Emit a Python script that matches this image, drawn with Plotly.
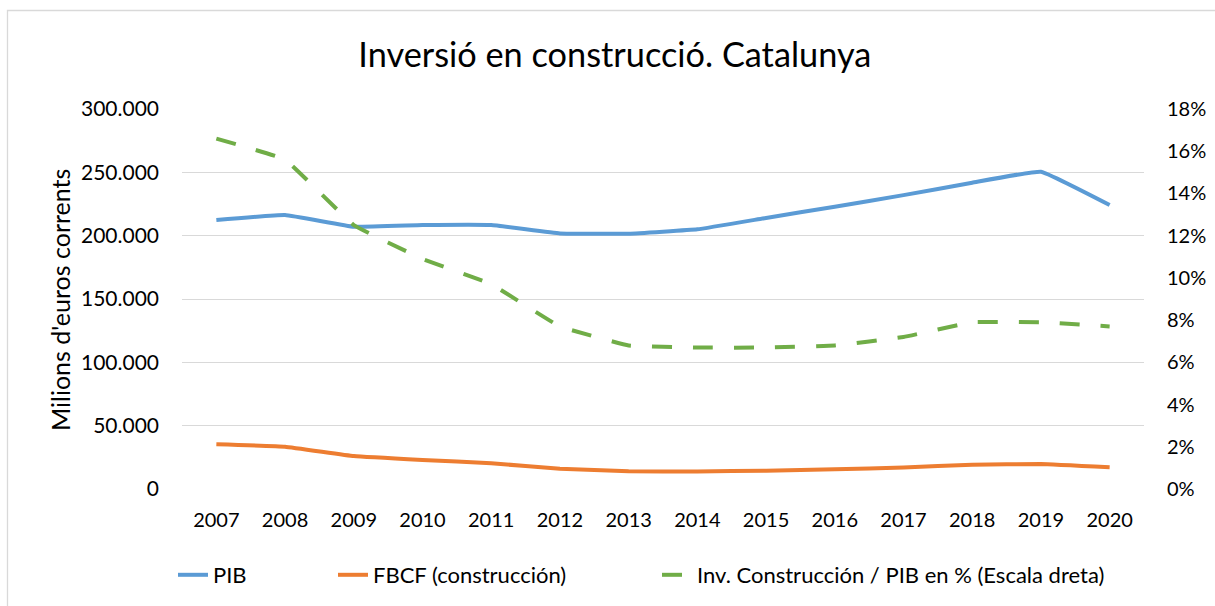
import plotly.graph_objects as go

years = ["2007", "2008", "2009", "2010", "2011", "2012", "2013",
         "2014", "2015", "2016", "2017", "2018", "2019", "2020"]
pib = [212400, 216300, 207000, 208400, 208400, 201800, 201600,
       205000, 214000, 222900, 232000, 241800, 250500, 224200]
fbcf = [35300, 33400, 26000, 22900, 20300, 16000, 14000,
        13800, 14500, 15500, 17000, 19200, 19700, 17100]
ratio_pct = [16.6, 15.6, 12.5, 10.9, 9.7, 7.7, 6.8,
             6.7, 6.7, 6.8, 7.2, 7.9, 7.9, 7.7]

FONT = "Lato"
TXT = "#000000"

L, R, T, B = 182, 71, 109, 117
W, H = 1215, 606
pw, ph = W - L - R, H - T - B

def px_x(px):
    return (px - L) / pw

def px_y(py):
    return (H - B - py) / ph

fig = go.Figure()
fig.add_trace(go.Scatter(x=years, y=pib, name="PIB", mode="lines", legend="legend",
                         line=dict(color="#5B9BD5", width=4, shape="spline", smoothing=0.25)))
fig.add_trace(go.Scatter(x=years, y=fbcf, name="FBCF (construcción)", mode="lines",
                         legend="legend2",
                         line=dict(color="#ED7D31", width=4, shape="spline", smoothing=0.25)))
fig.add_trace(go.Scatter(x=years, y=[v / 100 for v in ratio_pct],
                         name="Inv. Construcción / PIB en % (Escala dreta)", mode="lines",
                         yaxis="y2", legend="legend3",
                         line=dict(color="#70AD47", width=4, dash="20px,21px",
                                   shape="spline", smoothing=0.25)))

def leg(xpx):
    return dict(orientation="h", x=px_x(xpx), xanchor="left", y=px_y(575), yanchor="middle",
                font=dict(family=FONT, size=22, color=TXT), bgcolor="rgba(0,0,0,0)",
                borderwidth=0)

fig.update_layout(
    width=W, height=H,
    margin=dict(l=L, r=R, t=T, b=B, autoexpand=False),
    paper_bgcolor="white", plot_bgcolor="white",
    separators=",.",
    font=dict(family=FONT, color=TXT, size=20),
    title=dict(text="Inversió en construcció. Catalunya", x=0.506, xanchor="center",
               y=1 - 55 / H, yanchor="middle", yref="container",
               font=dict(family=FONT, size=34.3, color=TXT)),
    showlegend=True,
    legend=leg(215 - 42),
    legend2=leg(375 - 42),
    legend3=leg(699 - 42),
    xaxis=dict(type="category", range=[-0.5, 13.5], showgrid=False, showline=False,
               zeroline=False, ticks="", tickfont=dict(size=20), ticklabelstandoff=17),
    yaxis=dict(range=[0, 300000], dtick=50000, tickformat=",d", showgrid=True,
               gridcolor="#D9D9D9", gridwidth=1.3, zeroline=False, showline=False,
               ticks="", tickfont=dict(size=21), ticklabelstandoff=22),
    yaxis2=dict(range=[0, 0.18], dtick=0.02, tickformat=".0%", overlaying="y", side="right",
                showgrid=False, zeroline=False, showline=False, ticks="",
                tickfont=dict(size=20), ticklabelstandoff=22),
    annotations=[dict(text="Milions d'euros corrents", textangle=-90, x=px_x(60), y=px_y(300),
                      xref="paper", yref="paper", showarrow=False,
                      xanchor="center", yanchor="middle",
                      font=dict(family=FONT, size=25, color=TXT))],
    shapes=[dict(type="rect", xref="paper", yref="paper",
                 x0=px_x(7.5), x1=px_x(1220), y0=px_y(610), y1=px_y(10.5),
                 line=dict(color="#D9D9D9", width=1.3), fillcolor="rgba(0,0,0,0)",
                 layer="below")],
)

fig.write_html("out.html", config={"displayModeBar": False},
               post_script="document.body.style.margin='0px';")
